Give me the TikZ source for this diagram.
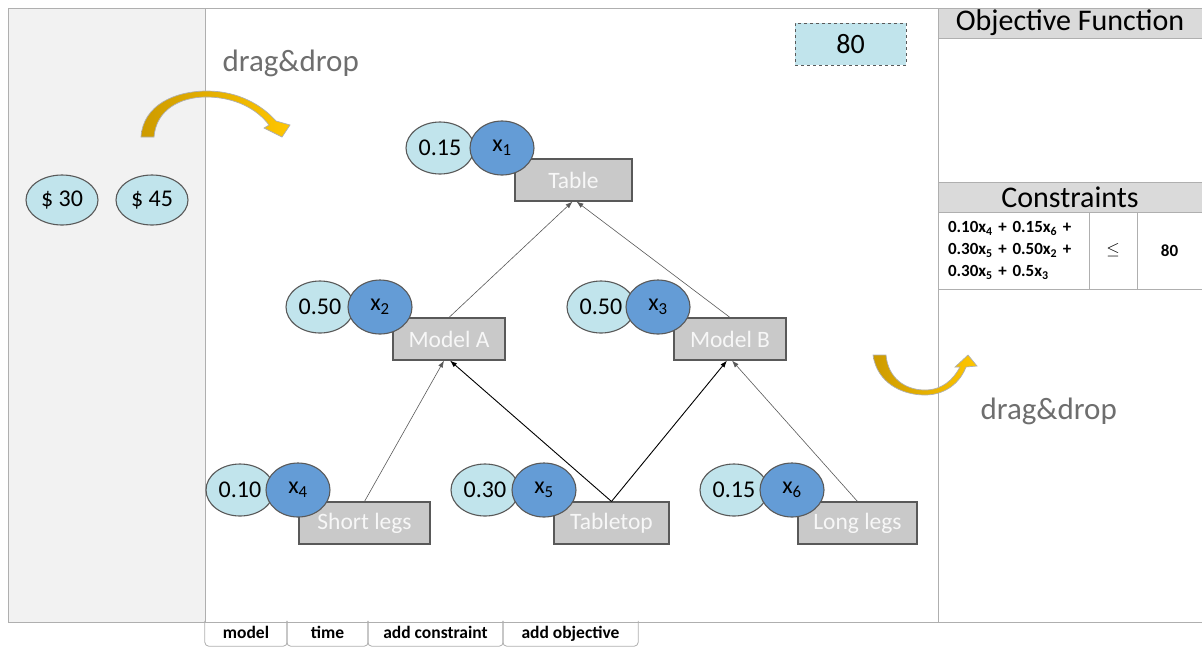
\documentclass[tikz,border=0pt]{standalone}
\usepackage{fontspec}
\setmainfont{Carlito}
\usetikzlibrary{arrows.meta,shapes.geometric,positioning}

\definecolor{lightsky}{RGB}{193,228,236}
\definecolor{varblue}{RGB}{100,156,214}
\definecolor{boxgray}{RGB}{201,201,201}
\definecolor{edgegray}{RGB}{89,89,89}
\definecolor{framegray}{RGB}{175,175,175}
\definecolor{panelgray}{RGB}{242,242,242}
\definecolor{headgray}{RGB}{218,218,218}
\definecolor{golddark}{RGB}{205,155,0}
\definecolor{goldlight}{RGB}{255,198,0}
\definecolor{dragtext}{RGB}{110,110,110}

\begin{document}
\begin{tikzpicture}[x=1pt,y=-1pt,>=Latex,
  valnode/.style={ellipse,draw=edgegray,line width=1.1pt,fill=lightsky,minimum width=68pt,minimum height=52pt,inner sep=0pt,font=\fontsize{24}{24}\selectfont},
  varnode/.style={ellipse,draw=edgegray,line width=1.1pt,fill=varblue,minimum width=64pt,minimum height=54pt,inner sep=0pt,font=\fontsize{24}{24}\selectfont},
  partbox/.style={rectangle,draw=edgegray,line width=1.1pt,fill=boxgray,minimum height=42pt,inner sep=0pt,text=white!94!gray,font=\fontsize{23.5}{23.5}\selectfont},
  link/.style={-{Latex[length=7pt,width=5pt]},draw=edgegray,line width=0.6pt},
  boldlink/.style={-{Latex[length=7pt,width=5pt]},draw=black,line width=0.9pt},
  headbar/.style={rectangle,draw=framegray,line width=0.8pt,fill=headgray,minimum width=264pt,minimum height=30pt,inner sep=0pt,font=\fontsize{30}{30}\selectfont},
  cell/.style={rectangle,draw=framegray,line width=0.8pt,minimum height=77pt,inner sep=0pt,font=\fontsize{17}{22}\selectfont\bfseries},
  tablabel/.style={rectangle,minimum height=24pt,inner sep=0pt,text height=12pt,text depth=3.5pt,font=\fontsize{17.5}{17.5}\selectfont\bfseries},
  tabline/.style={draw=framegray,line width=0.8pt,rounded corners=4pt},
  dragnote/.style={anchor=west,text=dragtext,font=\fontsize{31}{31}\selectfont},
  goldarrow/.style={left color=golddark,right color=goldlight,draw=framegray,line width=0.7pt}]
  \useasboundingbox (0,0) rectangle (1202,649);
  % panels
  \fill[panelgray] (8,8) rectangle (205,622);
  \draw[framegray,line width=0.8pt] (8,8) rectangle (1202,622);
  \draw[framegray,line width=0.8pt] (205,8) -- (205,622);
  \draw[framegray,line width=0.8pt] (938,8) -- (938,622);

  % right panel
  \node[headbar] (objhead) at (1070,23) {Objective Function};
  \node[headbar] (conhead) at (1070,197.5) {Constraints};
  \node[cell,minimum width=151pt,text width=131pt,align=left] (lhs) at (1013.5,250.5)
    {0.10x\textsubscript{4} + 0.15x\textsubscript{6} +\\0.30x\textsubscript{5} + 0.50x\textsubscript{2} +\\0.30x\textsubscript{5} + 0.5x\textsubscript{3}};
  \node[cell,minimum width=48pt] (rel) at (1113,250.5) {$\leq$};
  \node[cell,minimum width=65pt] (rhs) at (1169.5,250.5) {80};

  % budget box
  \node[rectangle,draw=edgegray,dashed,line width=1pt,fill=lightsky,minimum width=111pt,minimum height=42pt,font=\fontsize{28}{28}\selectfont] (budget) at (850.5,44) {80};

  % costs
  \node[valnode,minimum width=72pt,minimum height=50pt] (cost30) at (62,200) {\$ 30};
  \node[valnode,minimum width=72pt,minimum height=50pt] (cost45) at (152,200) {\$ 45};

  % parts
  \node[partbox,minimum width=117pt] (table) at (573.5,180) {Table};
  \node[partbox,minimum width=112pt] (modelA) at (449,339) {Model A};
  \node[partbox,minimum width=112pt] (modelB) at (730,339) {Model B};
  \node[partbox,minimum width=131pt] (shortlegs) at (364.5,523) {Short legs};
  \node[partbox,minimum width=115pt] (tabletop) at (611.5,523) {Tabletop};
  \node[partbox,minimum width=119pt] (longlegs) at (857.5,523) {Long legs};

  % links
  \draw[link] (modelA.north) -- ([xshift=-1pt]table.south);
  \draw[link] (modelB.north) -- ([xshift=3pt]table.south);
  \draw[link] (shortlegs.north) -- ([xshift=-5pt]modelA.south);
  \draw[boldlink] (tabletop.north) -- ([xshift=1pt]modelA.south);
  \draw[boldlink] (tabletop.north) -- ([xshift=-3pt]modelB.south);
  \draw[link] (longlegs.north) -- ([xshift=2pt]modelB.south);

  % weights and variables
  \node[valnode] (w1) at (440,148) {0.15};
  \node[varnode] (x1) at (502,148) {x\textsubscript{1}};
  \node[valnode] (w2) at (320,307) {0.50};
  \node[varnode] (x2) at (380,307) {x\textsubscript{2}};
  \node[valnode] (w3) at (601,307) {0.50};
  \node[varnode] (x3) at (658,307) {x\textsubscript{3}};
  \node[valnode] (w4) at (240,490) {0.10};
  \node[varnode] (x4) at (298,490) {x\textsubscript{4}};
  \node[valnode] (w5) at (485,490) {0.30};
  \node[varnode] (x5) at (544,490) {x\textsubscript{5}};
  \node[valnode] (w6) at (734,490) {0.15};
  \node[varnode] (x6) at (792,490) {x\textsubscript{6}};

  % drag&drop hints
  \node[dragnote] (dragleft) at (219,63) {drag\&drop};
  \node[dragnote] (dragright) at (977,411) {drag\&drop};
  \shadedraw[goldarrow] (141,137) .. controls (143,105) and (175,91) .. (207,91)
    .. controls (238,91) and (262,105) .. (276,121) -- (290,125) -- (282,137) -- (264,128) -- (269,125)
    .. controls (257,109) and (235,97) .. (206,97) .. controls (180,97) and (156,110) .. (154,137) -- cycle;
  \shadedraw[goldarrow] (873,355) .. controls (877,383) and (902,395) .. (925,395)
    .. controls (945,395) and (960,383) .. (966,367) -- (977,366) -- (968,355) -- (955,367) -- (960,367)
    .. controls (953,380) and (942,390) .. (925,390) .. controls (905,390) and (888,378) .. (886,355) -- cycle;

  % tabs
  \node[tablabel,minimum width=82pt] (tabmodel) at (246,634) {model};
  \node[tablabel,minimum width=81pt] (tabtime) at (327.5,634) {time};
  \node[tablabel,minimum width=135pt] (tabcons) at (435.5,634) {add constraint};
  \node[tablabel,minimum width=135pt] (tabobj) at (570.5,634) {add objective};
  \draw[white,line width=1.2pt] (tabtime.north west) -- (tabtime.north east);
  \foreach \t in {tabmodel,tabtime,tabcons,tabobj} {
    \draw[tabline] ([yshift=1pt]\t.north west) -- (\t.south west) -- (\t.south east) -- ([yshift=1pt]\t.north east);
  }
\end{tikzpicture}
\end{document}
